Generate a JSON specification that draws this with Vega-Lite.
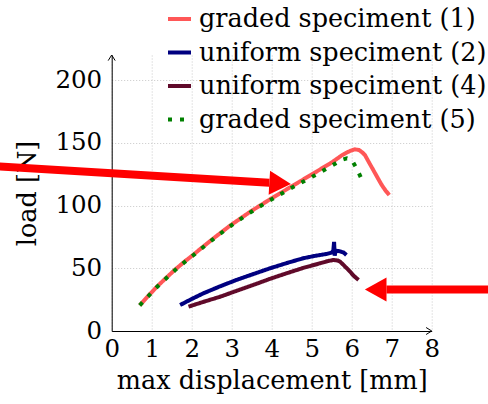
{
  "$schema": "https://vega.github.io/schema/vega-lite/v6.json",
  "width": 320,
  "height": 276,
  "autosize": "none",
  "padding": {"left": 111.7, "top": 55, "right": 56.3, "bottom": 73},
  "config": {"view": {"stroke": null}, "font": "DejaVu Serif"},
  "datasets": {
    "curves": [
      {"series": "graded speciment (1)", "x": 0.7, "y": 20.5},
      {"series": "graded speciment (1)", "x": 0.9, "y": 27.5},
      {"series": "graded speciment (1)", "x": 1.12, "y": 35},
      {"series": "graded speciment (1)", "x": 1.35, "y": 42},
      {"series": "graded speciment (1)", "x": 1.58, "y": 48.8},
      {"series": "graded speciment (1)", "x": 1.81, "y": 55},
      {"series": "graded speciment (1)", "x": 2.04, "y": 60.8},
      {"series": "graded speciment (1)", "x": 2.27, "y": 66.8},
      {"series": "graded speciment (1)", "x": 2.5, "y": 72.7},
      {"series": "graded speciment (1)", "x": 2.73, "y": 78.4},
      {"series": "graded speciment (1)", "x": 2.96, "y": 84},
      {"series": "graded speciment (1)", "x": 3.21, "y": 89.5},
      {"series": "graded speciment (1)", "x": 3.46, "y": 95},
      {"series": "graded speciment (1)", "x": 3.71, "y": 100},
      {"series": "graded speciment (1)", "x": 3.96, "y": 105},
      {"series": "graded speciment (1)", "x": 4.21, "y": 109.8},
      {"series": "graded speciment (1)", "x": 4.46, "y": 114.5},
      {"series": "graded speciment (1)", "x": 4.71, "y": 119.3},
      {"series": "graded speciment (1)", "x": 4.96, "y": 124},
      {"series": "graded speciment (1)", "x": 5.21, "y": 128.8},
      {"series": "graded speciment (1)", "x": 5.46, "y": 133.5},
      {"series": "graded speciment (1)", "x": 5.62, "y": 137},
      {"series": "graded speciment (1)", "x": 5.75, "y": 140},
      {"series": "graded speciment (1)", "x": 5.88, "y": 142.3},
      {"series": "graded speciment (1)", "x": 5.98, "y": 143.8},
      {"series": "graded speciment (1)", "x": 6.08, "y": 144.8},
      {"series": "graded speciment (1)", "x": 6.18, "y": 144.3},
      {"series": "graded speciment (1)", "x": 6.26, "y": 142.5},
      {"series": "graded speciment (1)", "x": 6.33, "y": 140.3},
      {"series": "graded speciment (1)", "x": 6.43, "y": 134.5},
      {"series": "graded speciment (1)", "x": 6.54, "y": 128.3},
      {"series": "graded speciment (1)", "x": 6.65, "y": 122},
      {"series": "graded speciment (1)", "x": 6.75, "y": 116.4},
      {"series": "graded speciment (1)", "x": 6.85, "y": 111.8},
      {"series": "graded speciment (1)", "x": 6.94, "y": 108.4},
      {"series": "uniform speciment (2)", "x": 1.71, "y": 20.7},
      {"series": "uniform speciment (2)", "x": 2.0, "y": 25.5},
      {"series": "uniform speciment (2)", "x": 2.29, "y": 30},
      {"series": "uniform speciment (2)", "x": 2.7, "y": 35.5},
      {"series": "uniform speciment (2)", "x": 3.12, "y": 40.7},
      {"series": "uniform speciment (2)", "x": 3.55, "y": 45.5},
      {"series": "uniform speciment (2)", "x": 3.96, "y": 50},
      {"series": "uniform speciment (2)", "x": 4.38, "y": 54.2},
      {"series": "uniform speciment (2)", "x": 4.79, "y": 58},
      {"series": "uniform speciment (2)", "x": 5.1, "y": 60},
      {"series": "uniform speciment (2)", "x": 5.37, "y": 61.4},
      {"series": "uniform speciment (2)", "x": 5.5, "y": 62.5},
      {"series": "uniform speciment (2)", "x": 5.54, "y": 64},
      {"series": "uniform speciment (2)", "x": 5.56, "y": 71},
      {"series": "uniform speciment (2)", "x": 5.575, "y": 60},
      {"series": "uniform speciment (2)", "x": 5.6, "y": 64},
      {"series": "uniform speciment (2)", "x": 5.71, "y": 63.5},
      {"series": "uniform speciment (2)", "x": 5.8, "y": 62.5},
      {"series": "uniform speciment (2)", "x": 5.87, "y": 60.5},
      {"series": "uniform speciment (4)", "x": 1.92, "y": 19.4},
      {"series": "uniform speciment (4)", "x": 2.3, "y": 23.3},
      {"series": "uniform speciment (4)", "x": 2.71, "y": 27.3},
      {"series": "uniform speciment (4)", "x": 3.12, "y": 32},
      {"series": "uniform speciment (4)", "x": 3.54, "y": 36.7},
      {"series": "uniform speciment (4)", "x": 3.95, "y": 41.5},
      {"series": "uniform speciment (4)", "x": 4.37, "y": 46},
      {"series": "uniform speciment (4)", "x": 4.79, "y": 50.3},
      {"series": "uniform speciment (4)", "x": 5.21, "y": 54},
      {"series": "uniform speciment (4)", "x": 5.4, "y": 55.7},
      {"series": "uniform speciment (4)", "x": 5.54, "y": 56.6},
      {"series": "uniform speciment (4)", "x": 5.65, "y": 56.2},
      {"series": "uniform speciment (4)", "x": 5.71, "y": 55.3},
      {"series": "uniform speciment (4)", "x": 5.8, "y": 52.5},
      {"series": "uniform speciment (4)", "x": 5.96, "y": 47.3},
      {"series": "uniform speciment (4)", "x": 6.05, "y": 44},
      {"series": "uniform speciment (4)", "x": 6.17, "y": 40.7},
      {"series": "graded speciment (5)", "x": 0.7, "y": 20.5},
      {"series": "graded speciment (5)", "x": 0.9, "y": 27.3},
      {"series": "graded speciment (5)", "x": 1.12, "y": 34.7},
      {"series": "graded speciment (5)", "x": 1.35, "y": 41.7},
      {"series": "graded speciment (5)", "x": 1.58, "y": 48.4},
      {"series": "graded speciment (5)", "x": 1.81, "y": 54.6},
      {"series": "graded speciment (5)", "x": 2.04, "y": 60.4},
      {"series": "graded speciment (5)", "x": 2.27, "y": 66.4},
      {"series": "graded speciment (5)", "x": 2.5, "y": 72.3},
      {"series": "graded speciment (5)", "x": 2.73, "y": 77.9},
      {"series": "graded speciment (5)", "x": 2.96, "y": 83.5},
      {"series": "graded speciment (5)", "x": 3.21, "y": 89},
      {"series": "graded speciment (5)", "x": 3.46, "y": 94.4},
      {"series": "graded speciment (5)", "x": 3.71, "y": 99.4},
      {"series": "graded speciment (5)", "x": 3.96, "y": 104.2},
      {"series": "graded speciment (5)", "x": 4.21, "y": 108.8},
      {"series": "graded speciment (5)", "x": 4.46, "y": 113.4},
      {"series": "graded speciment (5)", "x": 4.71, "y": 117.8},
      {"series": "graded speciment (5)", "x": 4.96, "y": 122},
      {"series": "graded speciment (5)", "x": 5.21, "y": 126.5},
      {"series": "graded speciment (5)", "x": 5.46, "y": 131},
      {"series": "graded speciment (5)", "x": 5.62, "y": 134},
      {"series": "graded speciment (5)", "x": 5.75, "y": 136.4},
      {"series": "graded speciment (5)", "x": 5.88, "y": 137.6},
      {"series": "graded speciment (5)", "x": 6.0, "y": 136.3},
      {"series": "graded speciment (5)", "x": 6.08, "y": 132},
      {"series": "graded speciment (5)", "x": 6.15, "y": 127.8},
      {"series": "graded speciment (5)", "x": 6.27, "y": 119.6}
    ],
    "shaftLeft": [{"x": -3.3, "y": 132.1, "x2": 3.94, "y2": 118.2}],
    "headLeft": [{"x": 4.48, "y": 117.2}],
    "shaftRight": [{"x": 6.87, "y": 33.1, "x2": 9.8, "y2": 33.1}],
    "headRight": [{"x": 6.33, "y": 33.1}],
    "yArrow": [{"x": 0, "y": 220}],
    "xArrow": [{"x": 8, "y": 0}]
  },
  "encoding": {
    "x": {
      "field": "x", "type": "quantitative",
      "scale": {"domain": [0, 8], "nice": false, "zero": false},
      "axis": {
        "values": [0, 1, 2, 3, 4, 5, 6, 7, 8],
        "title": "max displacement [mm]",
        "titleFont": "DejaVu Serif", "titleFontSize": 25.5, "titleFontWeight": "normal", "titleColor": "black",
        "titlePadding": 8,
        "labelFont": "DejaVu Serif", "labelFontSize": 24.5, "labelColor": "black", "labelPadding": 6,
        "labelFlush": false, "labelOverlap": false, "labelBound": false,
        "ticks": false, "domainColor": "black", "domainWidth": 1,
        "grid": true, "gridColor": "#c8c8c8", "gridDash": [1, 2], "gridWidth": 1
      }
    },
    "y": {
      "field": "y", "type": "quantitative",
      "scale": {"domain": [0, 220], "nice": false},
      "axis": {
        "values": [0, 50, 100, 150, 200],
        "title": "load [N]",
        "titleFont": "DejaVu Serif", "titleFontSize": 25.5, "titleFontWeight": "normal", "titleColor": "black",
        "titlePadding": 14,
        "labelFont": "DejaVu Serif", "labelFontSize": 24.5, "labelColor": "black", "labelPadding": 10,
        "labelFlush": false, "labelOverlap": false,
        "ticks": false, "domainColor": "black", "domainWidth": 1,
        "grid": true, "gridColor": "#c8c8c8", "gridDash": [1, 2], "gridWidth": 1
      }
    }
  },
  "layer": [
    {
      "data": {"name": "curves"},
      "mark": {"type": "line", "strokeWidth": 4},
      "encoding": {
        "color": {
          "field": "series", "type": "nominal",
          "scale": {
            "domain": ["graded speciment (1)", "uniform speciment (2)", "uniform speciment (4)", "graded speciment (5)"],
            "range": ["#ff5757", "#000080", "#600a2a", "#008000"]
          },
          "legend": {
            "orient": "none", "legendX": 54.3, "legendY": -49.5, "title": null,
            "symbolType": "stroke", "symbolSize": 529, "symbolStrokeWidth": 4, "symbolOpacity": 1,
            "labelFont": "DejaVu Serif", "labelFontSize": 25.5, "labelColor": "black",
            "labelOffset": 6, "labelLimit": 0, "rowPadding": 6.5
          }
        },
        "strokeDash": {
          "field": "series", "type": "nominal",
          "scale": {
            "domain": ["graded speciment (1)", "uniform speciment (2)", "uniform speciment (4)", "graded speciment (5)"],
            "range": [[1, 0], [1, 0], [1, 0], [4, 8]]
          },
          "legend": {
            "orient": "none", "legendX": 54.3, "legendY": -49.5, "title": null,
            "symbolType": "stroke", "symbolSize": 529, "symbolStrokeWidth": 4, "symbolOpacity": 1,
            "labelFont": "DejaVu Serif", "labelFontSize": 25.5, "labelColor": "black",
            "labelOffset": 6, "labelLimit": 0, "rowPadding": 6.5
          }
        }
      }
    },
    {
      "data": {"name": "shaftLeft"},
      "mark": {"type": "rule", "color": "#ff0000", "strokeWidth": 8, "strokeCap": "butt"},
      "encoding": {"x2": {"field": "x2"}, "y2": {"field": "y2"}}
    },
    {
      "data": {"name": "headLeft"},
      "mark": {"type": "point", "shape": "M0,0L-1.8,-1L-1.8,1Z", "size": 576, "filled": true, "color": "#ff0000", "opacity": 1, "angle": 3.4},
      "encoding": {}
    },
    {
      "data": {"name": "shaftRight"},
      "mark": {"type": "rule", "color": "#ff0000", "strokeWidth": 8, "strokeCap": "butt"},
      "encoding": {"x2": {"field": "x2"}, "y2": {"field": "y2"}}
    },
    {
      "data": {"name": "headRight"},
      "mark": {"type": "point", "shape": "M0,0L-1.8,-1L-1.8,1Z", "size": 576, "filled": true, "color": "#ff0000", "opacity": 1, "angle": 180},
      "encoding": {}
    },
    {
      "data": {"name": "yArrow"},
      "mark": {"type": "point", "shape": "M-1,1.6L0,0L1,1.6", "size": 49, "filled": false, "color": "black", "strokeWidth": 1, "opacity": 1},
      "encoding": {}
    },
    {
      "data": {"name": "xArrow"},
      "mark": {"type": "point", "shape": "M-1,1.6L0,0L1,1.6", "size": 49, "filled": false, "color": "black", "strokeWidth": 1, "opacity": 1, "angle": 90},
      "encoding": {}
    }
  ]
}
